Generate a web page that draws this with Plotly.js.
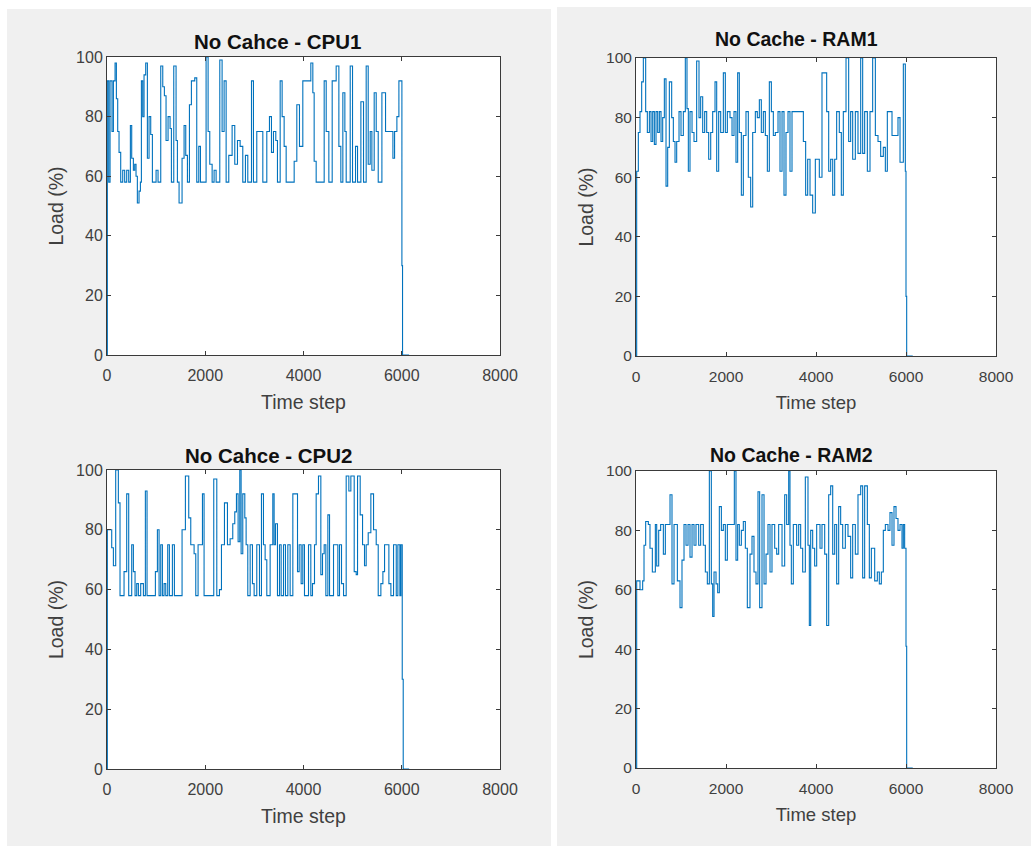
<!DOCTYPE html>
<html>
<head>
<meta charset="utf-8">
<script src="https://cdn.plot.ly/plotly-3.0.1.min.js"></script>
<style>
html,body{margin:0;padding:0;background:#ffffff;}
#chart{width:1035px;height:846px;}
</style>
</head>
<body>
<div id="chart"></div>
<script>
// ---------------- DATA ----------------
const panelTitles = ["No Cahce - CPU1", "No Cache - RAM1", "No Cahce - CPU2", "No Cache - RAM2"];
const xAxisLabel = "Time step";
const yAxisLabel = "Load (%)";
const xTicks = [0, 2000, 4000, 6000, 8000];
const yTicks = [0, 20, 40, 60, 80, 100];

const cpu1Time = [0,7,35,62,102,130,164,191,218,245,279,320,360,401,442,476,503,537,564,591,618,652,680,700,727,754,788,822,856,890,924,999,1039,1094,1135,1168,1202,1243,1284,1311,1359,1406,1433,1467,1528,1569,1603,1637,1678,1718,1786,1827,1868,1902,2017,2058,2092,2140,2180,2221,2296,2343,2384,2425,2479,2547,2601,2656,2710,2764,2818,2866,2941,2981,3049,3117,3172,3253,3307,3348,3389,3436,3470,3525,3565,3606,3647,3810,3864,3918,3986,4149,4190,4217,4258,4421,4462,4516,4584,4665,4720,4760,4801,4842,4869,4951,4998,5059,5100,5168,5222,5276,5317,5358,5392,5439,5480,5521,5596,5670,5820,5854,5901,5942,6003,6016,6150];
const cpu1Load = [0,92,58,92,75,92,98,86,75,68,58,62,58,62,58,77,66,62,64,60,51,55,58,92,80,94,98,66,80,74,58,62,58,97,90,87,72,80,76,58,97,72,58,51,66,77,67,58,84,92,93,58,70,58,100,75,64,58,62,58,99,75,92,58,67,77,64,72,70,58,67,58,92,58,75,75,58,75,80,68,75,72,58,92,80,70,58,65,84,70,92,98,88,65,58,92,75,58,92,97,70,58,88,75,58,97,58,70,58,85,58,97,64,75,62,88,75,58,88,75,66,75,80,92,30,0,0];

const ram1Time = [0,15,52,89,126,163,215,252,297,334,371,408,445,482,519,556,593,630,667,704,741,793,830,867,904,956,1000,1052,1096,1133,1163,1200,1245,1289,1348,1400,1437,1482,1526,1571,1615,1660,1704,1756,1793,1837,1882,1941,1985,2030,2089,2134,2178,2222,2259,2296,2341,2385,2444,2496,2548,2593,2652,2696,2741,2785,2830,2874,2919,2963,3008,3052,3096,3156,3200,3245,3289,3333,3378,3422,3467,3511,3719,3770,3815,3867,3926,3985,4074,4133,4237,4282,4326,4371,4415,4459,4518,4563,4607,4667,4726,4770,4815,4874,4933,4993,5037,5081,5141,5200,5259,5319,5378,5437,5496,5541,5585,5689,5822,5867,5941,5985,6000,6015,6150];
const ram1Load = [0,62,75,82,92,100,82,75,82,72,82,71,82,75,82,72,80,93,57,70,92,80,72,65,72,82,74,82,100,83,62,82,75,72,99,80,87,75,82,75,66,75,82,92,62,82,75,95,75,82,80,74,82,65,95,75,54,74,82,60,50,75,82,80,86,75,82,74,62,92,82,74,75,82,62,82,54,75,82,62,82,82,72,54,66,54,48,66,60,95,82,62,66,54,66,82,75,54,82,100,72,82,66,82,68,100,68,82,62,82,100,74,72,67,70,62,82,74,80,65,98,62,20,0,0];

const cpu2Time = [0,7,96,130,177,231,265,347,401,442,503,537,571,605,639,686,741,781,815,985,1026,1060,1094,1128,1162,1196,1236,1270,1331,1372,1528,1596,1664,1705,1773,1807,1854,1943,1976,2173,2235,2289,2330,2391,2452,2506,2560,2601,2635,2669,2703,2730,2764,2805,2832,2866,2914,2961,2995,3049,3104,3144,3185,3219,3253,3321,3375,3402,3430,3470,3511,3545,3593,3633,3681,3728,3783,3878,3912,3952,3986,4020,4102,4149,4183,4224,4258,4305,4353,4387,4421,4455,4496,4530,4611,4699,4733,4774,4815,4869,4923,4964,5032,5073,5100,5154,5202,5242,5276,5317,5371,5426,5480,5521,5575,5616,5650,5738,5779,5833,5888,5921,5962,5983,6010,6030,6150];
const cpu2Load = [0,80,74,68,100,89,58,66,92,58,75,66,58,62,58,62,58,93,58,66,80,58,75,58,62,58,75,58,75,58,80,98,84,75,72,58,75,92,58,97,58,60,75,89,75,77,82,86,92,76,100,72,92,84,75,58,75,62,58,75,58,92,75,70,58,75,92,75,82,58,75,58,75,58,75,58,92,66,75,62,75,58,75,58,62,75,92,98,65,72,75,58,85,58,75,58,75,62,58,98,93,98,66,65,98,85,75,68,75,79,92,80,75,58,62,66,75,62,58,75,58,75,58,75,30,0,0];

const ram2Time = [0,15,89,148,178,215,274,311,363,430,460,504,548,608,652,756,800,845,919,978,1022,1067,1111,1156,1200,1245,1289,1333,1393,1437,1496,1541,1585,1630,1674,1704,1734,1778,1815,1852,1897,1941,1985,2030,2185,2222,2259,2296,2341,2385,2430,2474,2533,2578,2622,2667,2711,2748,2800,2845,2889,2933,2978,3022,3082,3126,3170,3245,3304,3348,3393,3422,3452,3496,3570,3615,3659,3704,3763,3822,3852,3882,3926,3970,4015,4089,4133,4193,4237,4282,4326,4371,4415,4459,4504,4548,4593,4652,4711,4770,4815,4874,4933,4993,5037,5081,5141,5185,5230,5304,5363,5407,5452,5496,5541,5600,5644,5689,5733,5778,5822,5867,5911,5941,5970,6000,6015,6150];
const ram2Load = [0,63,60,63,75,83,82,74,66,82,68,80,82,72,82,92,62,82,63,54,70,82,75,82,71,82,75,82,75,82,75,66,62,100,62,51,66,62,59,88,80,82,70,82,100,70,82,75,80,83,74,54,72,78,66,62,93,54,92,62,72,82,66,82,74,72,82,68,92,82,100,75,62,82,75,82,74,66,98,75,48,80,74,68,82,74,82,72,48,92,95,72,82,62,88,82,74,82,78,64,82,72,92,95,64,95,82,64,74,63,66,62,66,80,82,80,86,75,88,84,80,82,74,82,74,41,0,0];

// ---------------- LAYOUT HELPERS (pixel geometry of the figure) ----------------
const W = 1035, H = 846;
const px = v => v / W;
const py = v => 1 - v / H;

// plot boxes in pixels: [left, right, top, bottom]
const boxes = [
  [107, 500, 57, 355],
  [636, 996, 58, 356],
  [107, 500, 470, 769],
  [636, 996, 471, 768]
];
const series = [[cpu1Time, cpu1Load], [ram1Time, ram1Load], [cpu2Time, cpu2Load], [ram2Time, ram2Load]];
const tickSize = [16, 15.5, 16, 15.5];
const xLabSize = [19.5, 18.5, 19.5, 18.5];
const titleSize = [20.5, 19.5, 20.5, 19.5];
const titlePos = [[277, 42], [796, 39], [268, 455], [791, 455]];

const font = "Liberation Sans, Arial, Helvetica, sans-serif";
const axisCol = "#3a3a3a";
const textCol = "#404040";

const traces = [];
const layout = {
  width: W, height: H,
  margin: {l: 0, r: 0, t: 0, b: 0},
  paper_bgcolor: "#f0f0f0",
  plot_bgcolor: "#ffffff",
  showlegend: false,
  font: {family: font, color: textCol},
  annotations: [],
  shapes: [
    // white borders around the two grey figure panels
    {type: "rect", xref: "paper", yref: "paper", x0: 0, x1: px(7), y0: 0, y1: 1, fillcolor: "#ffffff", line: {width: 0}, layer: "below"},
    {type: "rect", xref: "paper", yref: "paper", x0: 0, x1: px(552), y0: py(9), y1: 1, fillcolor: "#ffffff", line: {width: 0}, layer: "below"},
    {type: "rect", xref: "paper", yref: "paper", x0: px(552), x1: 1, y0: py(7), y1: 1, fillcolor: "#ffffff", line: {width: 0}, layer: "below"},
    {type: "rect", xref: "paper", yref: "paper", x0: px(551), x1: px(557), y0: 0, y1: 1, fillcolor: "#ffffff", line: {width: 0}, layer: "below"},
    {type: "rect", xref: "paper", yref: "paper", x0: px(1031), x1: 1, y0: 0, y1: 1, fillcolor: "#ffffff", line: {width: 0}, layer: "below"}
  ]
};

boxes.forEach((b, i) => {
  const n = i === 0 ? "" : String(i + 1);
  traces.push({
    x: series[i][0], y: series[i][1],
    type: "scatter", mode: "lines",
    line: {color: "#0072BD", width: 1.1, shape: "hv"},
    xaxis: "x" + n, yaxis: "y" + n,
    hoverinfo: "skip"
  });
  const common = {
    showgrid: false, zeroline: false,
    showline: true, linecolor: axisCol, linewidth: 1,
    mirror: "allticks", ticks: "inside", ticklen: 4, tickwidth: 1, tickcolor: axisCol,
    tickfont: {family: font, size: tickSize[i], color: textCol},
    fixedrange: true
  };
  layout["xaxis" + n] = Object.assign({}, common, {
    domain: [px(b[0]), px(b[1])],
    anchor: "y" + n,
    range: [0, 8000],
    tickvals: xTicks, ticktext: xTicks.map(String),
    ticklabelstandoff: 6,
    title: {text: xAxisLabel, font: {family: font, size: xLabSize[i], color: textCol}, standoff: 12}
  });
  layout["yaxis" + n] = Object.assign({}, common, {
    domain: [py(b[3]), py(b[2])],
    anchor: "x" + n,
    range: [0, 100],
    tickvals: yTicks, ticktext: yTicks.map(String),
    title: {text: yAxisLabel, font: {family: font, size: 19.5, color: textCol}, standoff: 7}
  });
  layout.annotations.push({
    xref: "paper", yref: "paper",
    x: px(titlePos[i][0]), y: py(titlePos[i][1]),
    xanchor: "center", yanchor: "middle",
    text: "<b>" + panelTitles[i] + "</b>",
    showarrow: false,
    font: {family: font, size: titleSize[i], color: "#111111"}
  });
});

Plotly.newPlot("chart", traces, layout, {displayModeBar: false, staticPlot: true});
</script>
</body>
</html>
